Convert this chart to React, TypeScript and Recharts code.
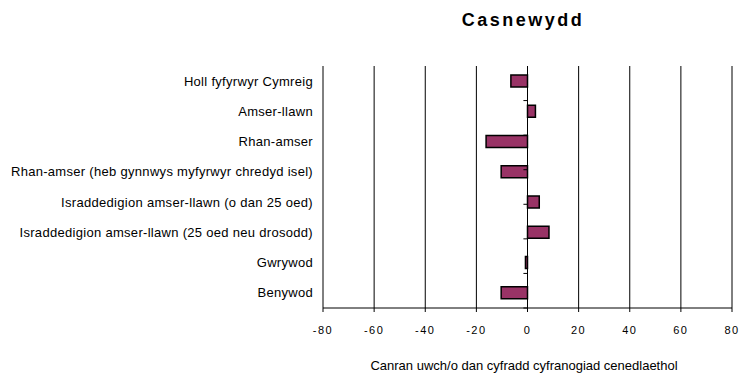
import { BarChart, Bar, XAxis, YAxis, CartesianGrid, ReferenceArea, ReferenceLine } from 'recharts';

const categories = [
  'Holl fyfyrwyr Cymreig',
  'Amser-llawn',
  'Rhan-amser',
  'Rhan-amser (heb gynnwys myfyrwyr chredyd isel)',
  'Israddedigion amser-llawn (o dan 25 oed)',
  'Israddedigion amser-llawn (25 oed neu drosodd)',
  'Gwrywod',
  'Benywod',
];

const values = [-6.5, 3.1, -16.2, -10.3, 4.6, 8.4, -0.8, -10.3];

const xTicks = [-80, -60, -40, -20, 0, 20, 40, 60, 80];

const title = 'Casnewydd';
const xLabel = 'Canran uwch/o dan cyfradd cyfranogiad cenedlaethol';

const data = categories.map((name, i) => ({ name, value: values[i] }));
const boundaries = categories.map((_, i) => i + 1);

const font = '"Liberation Sans", Arial, sans-serif';

// category labels on one line, right aligned (recharts would wrap the long one)
const CategoryTick = (props: any) => {
  const { x, y, payload } = props;
  return (
    <text
      x={x}
      y={y}
      textAnchor="end"
      dominantBaseline="central"
      fill="#000"
      fontSize={13}
      fontFamily={font}
      letterSpacing={0.3}
    >
      {payload.value}
    </text>
  );
};

const App = () => {
  return (
    <div style={{ position: 'absolute', left: 0, top: 0, width: 740, height: 373, fontFamily: font, background: '#fff' }}>
      <div
        style={{
          position: 'absolute',
          left: 523,
          top: 11,
          transform: 'translateX(-50%)',
          fontSize: 18,
          lineHeight: '18px',
          fontWeight: 'bold',
          letterSpacing: 2.5,
          whiteSpace: 'nowrap',
        }}
      >
        {title}
      </div>

      <BarChart
        width={740}
        height={373}
        data={data}
        layout="vertical"
        margin={{ top: 66, right: 8, bottom: 35, left: 0 }}
        barSize={12}
      >
        <CartesianGrid horizontal={false} stroke="#000" />
        <XAxis
          type="number"
          domain={[-80, 80]}
          ticks={xTicks}
          interval={0}
          height={30}
          stroke="#000"
          tickSize={4}
          tickMargin={14}
          tick={{ fill: '#000', fontSize: 11, fontFamily: font, letterSpacing: 1.5 }}
        />
        <YAxis
          type="category"
          dataKey="name"
          width={323}
          axisLine={false}
          tickLine={false}
          tickSize={0}
          tickMargin={10}
          interval={0}
          tick={<CategoryTick />}
        />
        <YAxis yAxisId="bands" type="number" domain={[0, categories.length]} hide />
        <ReferenceArea
          yAxisId="bands"
          x1={-80}
          x2={80}
          y1={0}
          y2={categories.length}
          fill="none"
          stroke="#808080"
          strokeWidth={1}
        />
        {boundaries.map((b) => (
          <ReferenceLine
            key={b}
            yAxisId="bands"
            segment={[
              { x: -1.6, y: b },
              { x: 0, y: b },
            ]}
            stroke="#000"
          />
        ))}
        <Bar dataKey="value" fill="#993366" stroke="#000" strokeWidth={1.5} isAnimationActive={false} />
      </BarChart>

      <div
        style={{
          position: 'absolute',
          left: 524,
          top: 359,
          transform: 'translateX(-50%)',
          fontSize: 13,
          lineHeight: '13px',
          whiteSpace: 'nowrap',
        }}
      >
        {xLabel}
      </div>
    </div>
  );
};

export default App;
